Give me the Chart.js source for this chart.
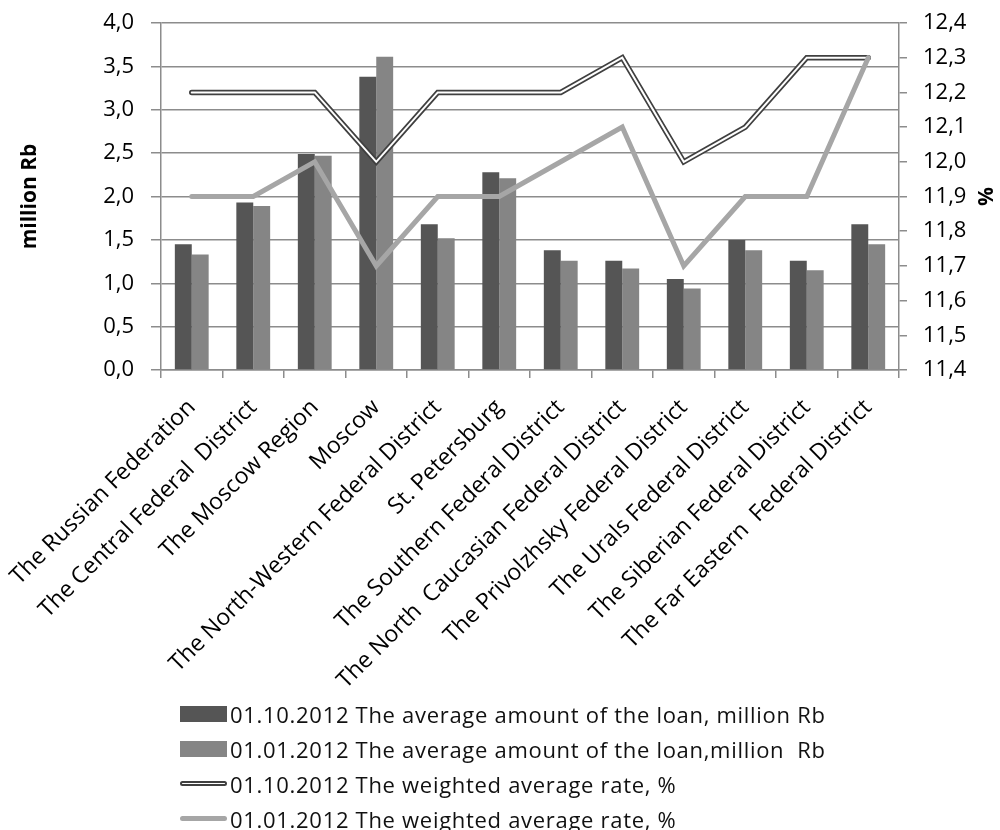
<!DOCTYPE html>
<html>
<head>
<meta charset="utf-8">
<script src="https://cdn.jsdelivr.net/npm/chart.js@4/dist/chart.umd.min.js"></script>
<style>
  body { margin: 0; background: #fff; font-family: "Open Sans", sans-serif; }
  #wrap { position: relative; width: 1000px; height: 830px; }
  #legend { position: absolute; left: 180px; top: 696px; }
  .item { display: flex; align-items: center; height: 35px; font-size: 22px; letter-spacing: 0.7px; color: #111; white-space: pre; }
  .swatch { width: 47px; margin-right: 3px; }
  .box { height: 16px; }
  .dbl { height: 1px; border: 2px solid #404040; border-radius: 3px; background: #fff; width: 43px; }
  .thick { height: 5px; border-radius: 3px; background: #a6a6a6; }
</style>
</head>
<body>
<div id="wrap">
  <canvas id="chart" width="1000" height="830"></canvas>
  <div id="legend"></div>
</div>
<script>
var categories = [
    "The Russian Federation", "The Central Federal  District", "The Moscow Region", "Moscow",
    "The North-Western Federal District", "St. Petersburg", "The Southern Federal District",
    "The North  Caucasian Federal District", "The Privolzhsky Federal District",
    "The Urals Federal District", "The Siberian Federal District", "The Far Eastern  Federal District"
];
var loanOct = [1.45, 1.93, 2.49, 3.38, 1.68, 2.28, 1.38, 1.26, 1.05, 1.50, 1.26, 1.68];
var loanJan = [1.33, 1.89, 2.47, 3.61, 1.52, 2.21, 1.26, 1.17, 0.94, 1.38, 1.15, 1.45];
var rateOct = [12.2, 12.2, 12.2, 12.0, 12.2, 12.2, 12.2, 12.3, 12.0, 12.1, 12.3, 12.3];
var rateJan = [11.9, 11.9, 12.0, 11.7, 11.9, 11.9, 12.0, 12.1, 11.7, 11.9, 11.9, 12.3];

var seriesNames = [
    "01.10.2012 The average amount of the loan, million Rb",
    "01.01.2012 The average amount of the loan,million  Rb",
    "01.10.2012 The weighted average rate, %",
    "01.01.2012 The weighted average rate, %"
];

var gridColor = "#8c8c8c";
var tickFont = { family: "Open Sans", size: 22 };
var catFont = { family: "Open Sans", size: 23 };

let comma = (v) => v.toFixed(1).replace('.', ',');

// y axes: fixed width, and no extra top/bottom padding from the tick padding
let fixY = (w) => function(s) {
    s.width = w;
    s.paddingTop = 0;
    s.paddingBottom = 0;
};

var ctx = document.getElementById("chart").getContext('2d');
var myChart = new Chart(ctx, {
    data: {
        labels: categories,
        datasets: [
            { type: 'bar', label: seriesNames[0], data: loanOct, backgroundColor: "#555555", yAxisID: 'y', order: 3 },
            { type: 'bar', label: seriesNames[1], data: loanJan, backgroundColor: "#858585", yAxisID: 'y', order: 3 },
            { type: 'line', label: seriesNames[2], data: rateOct, borderColor: "#404040", borderWidth: 5.5,
              pointRadius: 0, tension: 0, borderCapStyle: 'round', yAxisID: 'y1', order: 2 },
            // white core of the double line
            { type: 'line', label: '', data: rateOct, borderColor: "#ffffff", borderWidth: 2,
              pointRadius: 0, tension: 0, borderCapStyle: 'round', yAxisID: 'y1', order: 1 },
            { type: 'line', label: seriesNames[3], data: rateJan, borderColor: "#a6a6a6", borderWidth: 5,
              pointRadius: 0, tension: 0, borderCapStyle: 'round', yAxisID: 'y1', order: 0 }
        ]
    },
    options: {
        responsive: false,
        animation: false,
        layout: { padding: { top: 23, left: 0, right: 0, bottom: 0 } },
        datasets: { bar: { categoryPercentage: 0.55, barPercentage: 1.0 } },
        plugins: { legend: { display: false }, tooltip: { enabled: false } },
        scales: {
            x: {
                offset: true,
                grid: { display: true, drawOnChartArea: false, offset: true, tickLength: 8, color: gridColor, lineWidth: 1.5 },
                border: { color: gridColor, width: 1.5 },
                ticks: { font: catFont, color: "#000", minRotation: 45, maxRotation: 45, autoSkip: false, padding: 16 },
                afterFit: function(s) {
                    s.height = 460;
                    s.paddingLeft = 0;
                    s.paddingRight = 0;
                }
            },
            y: {
                position: 'left',
                min: 0, max: 4,
                grid: { color: gridColor, lineWidth: 1.5, tickLength: 10 },
                border: { color: gridColor, width: 1.5 },
                ticks: { stepSize: 0.5, font: tickFont, color: "#000", padding: 17, callback: (v) => comma(v) },
                title: { display: true, text: "million Rb", color: "#000", font: { family: "Open Sans", size: 21, weight: 'bold' }, padding: { top: 17, bottom: 0 } },
                afterFit: fixY(161)
            },
            y1: {
                position: 'right',
                min: 11.4, max: 12.4,
                grid: { drawOnChartArea: false, color: gridColor, lineWidth: 1.5, tickLength: 8 },
                border: { color: gridColor, width: 1.5 },
                ticks: { stepSize: 0.1, font: tickFont, color: "#000", padding: 16, callback: (v) => comma(v) },
                title: { display: true, text: "%", color: "#000", font: { family: "Open Sans", size: 21, weight: 'bold' }, padding: { top: 3, bottom: 0 } },
                afterFit: fixY(101)
            }
        }
    }
});

// legend drawn as html, one row per series
var swatchClass = ["box", "box", "dbl", "thick"];
var swatchColor = ["#555555", "#858585", "", "#a6a6a6"];
var legend = document.getElementById("legend");
for (var i = 0; i < seriesNames.length; i++) {
    var row = document.createElement("div");
    row.className = "item";
    var sw = document.createElement("div");
    sw.className = "swatch " + swatchClass[i];
    if (swatchColor[i]) sw.style.background = swatchColor[i];
    var txt = document.createElement("span");
    txt.textContent = seriesNames[i];
    row.appendChild(sw);
    row.appendChild(txt);
    legend.appendChild(row);
}
</script>
</body>
</html>
